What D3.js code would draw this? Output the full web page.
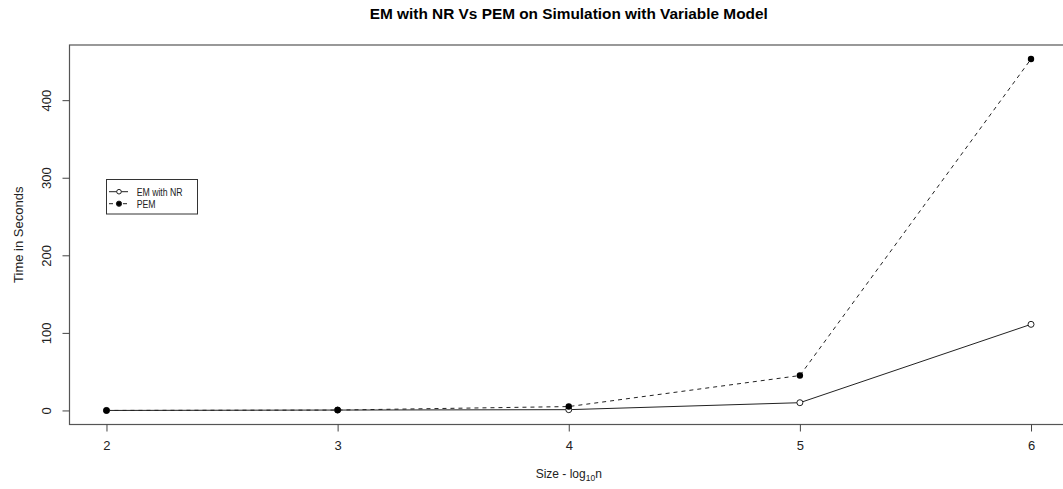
<!DOCTYPE html>
<html><head><meta charset="utf-8">
<script src="https://cdn.jsdelivr.net/npm/d3@7"></script>
<style>body{margin:0;background:#fff}svg{display:block;font-family:"Liberation Sans",Arial,sans-serif}</style>
</head><body>
<svg id="c" width="1063" height="489"></svg>
<script>
const sizes = [2, 3, 4, 5, 6];
const emNR = [0, 0.5, 1, 10, 111];
const pem = [0, 0.5, 5, 45, 453];
const xTicks = [2, 3, 4, 5, 6];
const yTicks = [0, 100, 200, 300, 400];
const seriesNames = ["EM with NR", "PEM"];

(function(){
const svg = d3.select("#c");
const pl = 69.5, pr = 1068, pt = 45, pb = 424.5;

function pad(ext){const d=(ext[1]-ext[0])*0.04;return [ext[0]-d, ext[1]+d];}
const x = d3.scaleLinear().domain(pad(d3.extent(sizes))).range([pl, pr]);
const y = d3.scaleLinear().domain(pad([0, d3.max(emNR.concat(pem))])).range([pb, pt]);

const ink = "#222";
svg.append("rect").attr("x", pl).attr("y", pt).attr("width", pr-pl).attr("height", pb-pt)
  .attr("fill","none").attr("stroke","#555").attr("stroke-width",1.2);

// x axis
const xAxis = svg.append("g").attr("transform",`translate(0,${pb})`)
  .call(d3.axisBottom(x).tickValues(xTicks).tickSize(7).tickPadding(9).tickFormat(d3.format("d")));
xAxis.select(".domain").remove();
xAxis.selectAll("line").attr("stroke","#444");
xAxis.selectAll("text").attr("font-size",13).attr("fill",ink).attr("font-family","Liberation Sans, Arial, sans-serif");

// y axis
const yAxis = svg.append("g").attr("transform",`translate(${pl},0)`)
  .call(d3.axisLeft(y).tickValues(yTicks).tickSize(7).tickFormat(d3.format("d")));
yAxis.select(".domain").remove();
yAxis.selectAll("line").attr("stroke","#444");
yAxis.selectAll(".tick text").attr("font-size",13).attr("fill",ink)
  .attr("font-family","Liberation Sans, Arial, sans-serif")
  .attr("x",null).attr("dy",null).attr("text-anchor","middle")
  .attr("transform","translate(-18.5,0) rotate(-90)");

// lines
const line = d3.line().x(d=>x(d[0])).y(d=>y(d[1]));
const emPts = sizes.map((s,i)=>[s, emNR[i]]);
const pemPts = sizes.map((s,i)=>[s, pem[i]]);
svg.append("path").attr("d", line(pemPts)).attr("fill","none").attr("stroke",ink).attr("stroke-width",1).attr("stroke-dasharray","4,4");
svg.append("path").attr("d", line(emPts)).attr("fill","none").attr("stroke",ink).attr("stroke-width",1);
svg.selectAll(".em").data(emPts).enter().append("circle").attr("cx",d=>x(d[0])).attr("cy",d=>y(d[1])).attr("r",3)
  .attr("fill","#fff").attr("stroke",ink).attr("stroke-width",1);
svg.selectAll(".pm").data(pemPts).enter().append("circle").attr("cx",d=>x(d[0])).attr("cy",d=>y(d[1])).attr("r",3.2)
  .attr("fill","#000");

// title
svg.append("text").attr("x",(pl+pr)/2).attr("y",19.3).attr("text-anchor","middle")
  .attr("font-size",14.5).attr("font-weight","bold").attr("fill","#000")
  .attr("textLength",398).attr("lengthAdjust","spacingAndGlyphs")
  .text("EM with NR Vs PEM on Simulation with Variable Model");
// axis titles
const xt = svg.append("text").attr("x",(pl+pr)/2).attr("y",478).attr("text-anchor","middle").attr("font-size",12).attr("fill",ink);
xt.append("tspan").text("Size - log");
xt.append("tspan").attr("font-size",8.5).attr("dy",3).text("10");
xt.append("tspan").attr("dy",-3).text("n");
svg.append("text").attr("transform",`translate(22.5,${(pt+pb)/2}) rotate(-90)`).attr("text-anchor","middle")
  .attr("font-size",13).attr("fill",ink).text("Time in Seconds");

// legend
const lg = svg.append("g");
lg.append("rect").attr("x",106.5).attr("y",179.5).attr("width",91).attr("height",34.5).attr("fill","#fff").attr("stroke","#333");
seriesNames.forEach((n,i)=>{
  const yy = 191.7 + i*12;
  lg.append("line").attr("x1",109).attr("x2",128).attr("y1",yy).attr("y2",yy).attr("stroke",ink)
    .attr("stroke-dasharray", i===1 ? "4,3" : null);
  lg.append("circle").attr("cx",119).attr("cy",yy).attr("r",i===1?2.6:2.3).attr("fill",i===1?"#000":"#fff").attr("stroke",ink);
  lg.append("text").attr("transform",`translate(136.7,${yy+3.8}) scale(0.83,1)`).attr("font-size",10.5).attr("fill",ink).text(n);
});
})();
</script>
</body></html>
